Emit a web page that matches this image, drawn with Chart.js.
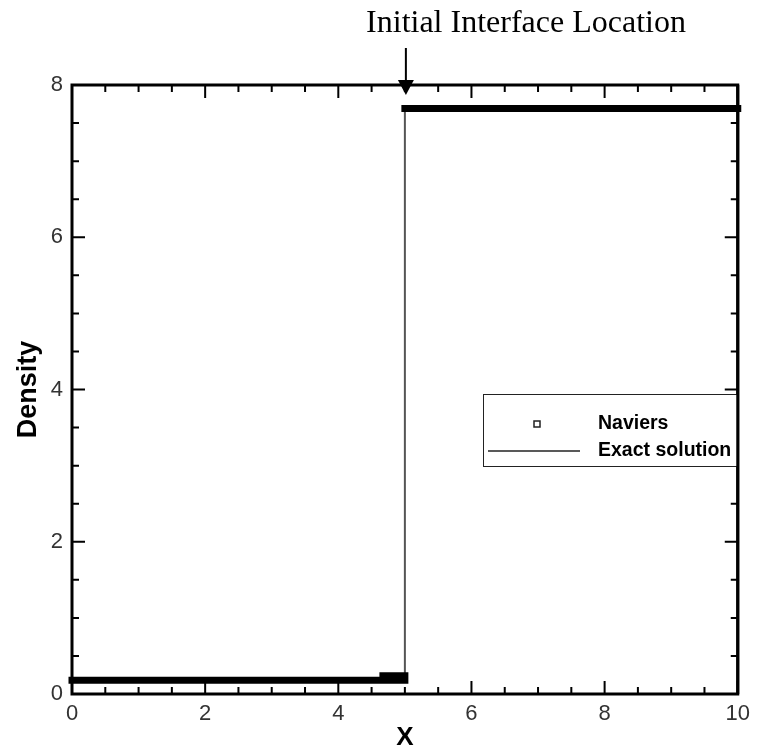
<!DOCTYPE html>
<html>
<head>
<meta charset="utf-8">
<script src="https://cdn.jsdelivr.net/npm/chart.js@4.4.0/dist/chart.umd.min.js"></script>
<style>
  html, body { margin: 0; padding: 0; background: #fff; }
  #wrap { width: 757px; height: 753px; }
</style>
</head>
<body>
<div id="wrap"><canvas id="c" width="757" height="753"></canvas></div>
<script>
// Naviers (markers so dense they form a thick line), null breaks the line
const naviersX = [0, 5.0, 5.0, 4.67, 5.0, 5.0, 5.0, 10];
const naviersY = [0.18, 0.18, null, 0.24, 0.24, null, 7.69, 7.69];
// exact solution
const exactX = [0, 5.0, 5.0, 10];
const exactY = [0.18, 0.18, 7.69, 7.69];
const xRange = [0, 10];
const yRange = [0, 8];
const labelStep = 2;   // labelled (major) ticks
const minorStep = 0.5; // all ticks
const interfaceX = 5.0;
const titleText = 'Initial Interface Location';
const seriesNames = ['Naviers', 'Exact solution'];

const toPoints = (xs, ys) => xs.map((x, i) => ({ x: x, y: ys[i] }));

const tickFont = { family: 'Liberation Sans, Arial, sans-serif', size: 22 };
const labelIfMajor = v => (v % labelStep === 0 ? String(v) : '');

// inward ticks on all four sides, the frame, arrow, title and legend
const decorations = {
  id: 'decorations',
  afterDatasetsDraw(chart) {
    const { ctx, chartArea: a, scales: { x, y } } = chart;
    ctx.save();
    ctx.strokeStyle = '#000';
    ctx.lineWidth = 2;
    ctx.beginPath();
    x.ticks.forEach(t => {
      const px = x.getPixelForValue(t.value);
      const len = t.value % labelStep === 0 ? 13 : 7;
      ctx.moveTo(px, a.bottom); ctx.lineTo(px, a.bottom - len);
      ctx.moveTo(px, a.top); ctx.lineTo(px, a.top + len);
    });
    y.ticks.forEach(t => {
      const py = y.getPixelForValue(t.value);
      const len = t.value % labelStep === 0 ? 13 : 7;
      ctx.moveTo(a.left, py); ctx.lineTo(a.left + len, py);
      ctx.moveTo(a.right, py); ctx.lineTo(a.right - len, py);
    });
    ctx.stroke();

    ctx.lineWidth = 3;
    ctx.strokeRect(a.left, a.top, a.width, a.height);

    // arrow to the initial interface
    const ax = x.getPixelForValue(interfaceX) + 1;
    ctx.lineWidth = 2;
    ctx.beginPath();
    ctx.moveTo(ax, 48); ctx.lineTo(ax, a.top - 2);
    ctx.stroke();
    ctx.fillStyle = '#000';
    ctx.beginPath();
    ctx.moveTo(ax - 8, a.top - 5);
    ctx.lineTo(ax + 8, a.top - 5);
    ctx.lineTo(ax, a.top + 10);
    ctx.closePath();
    ctx.fill();

    ctx.font = '32px "Liberation Serif", "Times New Roman", serif';
    ctx.textAlign = 'center';
    ctx.textBaseline = 'alphabetic';
    ctx.fillText(titleText, 526, 32);

    // legend box
    const lx = a.left + 411, ly = a.top + 309, lw = a.right - lx, lh = 72;
    ctx.fillStyle = '#fff';
    ctx.fillRect(lx, ly, lw, lh);
    ctx.lineWidth = 1;
    ctx.strokeStyle = '#222';
    ctx.strokeRect(lx + 0.5, ly + 0.5, lw, lh);
    ctx.lineWidth = 1.5;
    ctx.strokeRect(lx + 51, ly + 27, 6, 6);
    ctx.beginPath();
    ctx.moveTo(lx + 5, ly + 57); ctx.lineTo(lx + 97, ly + 57);
    ctx.stroke();
    ctx.fillStyle = '#000';
    ctx.font = 'bold 19.5px "Liberation Sans", Arial, sans-serif';
    ctx.textAlign = 'left';
    ctx.textBaseline = 'middle';
    ctx.fillText(seriesNames[0], lx + 115, ly + 30);
    ctx.fillText(seriesNames[1], lx + 115, ly + 57);

    ctx.lineWidth = 3;
    ctx.strokeStyle = '#000';
    ctx.beginPath();
    ctx.moveTo(a.right, a.top); ctx.lineTo(a.right, a.bottom);
    ctx.stroke();
    ctx.restore();
  }
};

new Chart(document.getElementById('c'), {
  type: 'scatter',
  data: {
    datasets: [
      {
        label: seriesNames[1],
        data: toPoints(exactX, exactY),
        showLine: true,
        borderColor: '#555',
        borderWidth: 2,
        pointRadius: 0,
        tension: 0,
        clip: false,
        order: 2
      },
      {
        label: seriesNames[0],
        data: toPoints(naviersX, naviersY),
        showLine: true,
        spanGaps: false,
        borderColor: '#000',
        borderWidth: 7,
        borderCapStyle: 'square',
        borderJoinStyle: 'round',
        pointRadius: 0,
        tension: 0,
        clip: false,
        order: 1
      }
    ]
  },
  options: {
    responsive: false,
    animation: false,
    events: [],
    layout: { padding: { top: 85, right: 17, left: 0, bottom: 0 } },
    plugins: { legend: { display: false }, tooltip: { enabled: false } },
    scales: {
      x: {
        type: 'linear',
        min: xRange[0],
        max: xRange[1],
        afterFit: s => { s.height = 59; },
        grid: { display: false, drawTicks: false },
        border: { display: false },
        ticks: {
          stepSize: minorStep,
          autoSkip: false,
          maxRotation: 0,
          padding: 7,
          color: '#333',
          font: tickFont,
          callback: labelIfMajor
        },
        title: {
          display: true,
          text: 'X',
          color: '#000',
          font: { family: 'Liberation Sans, Arial, sans-serif', size: 26, weight: 'bold' },
          padding: { top: 0, bottom: 0 }
        }
      },
      y: {
        type: 'linear',
        min: yRange[0],
        max: yRange[1],
        afterFit: s => { s.width = 72; },
        grid: { display: false, drawTicks: false },
        border: { display: false },
        ticks: {
          stepSize: minorStep,
          autoSkip: false,
          padding: 9,
          color: '#333',
          font: tickFont,
          callback: labelIfMajor
        },
        title: {
          display: true,
          text: 'Density',
          color: '#000',
          font: { family: 'Liberation Sans, Arial, sans-serif', size: 27, weight: 'bold' },
          padding: { top: 12, bottom: 0 }
        }
      }
    }
  },
  plugins: [decorations]
});
</script>
</body>
</html>
